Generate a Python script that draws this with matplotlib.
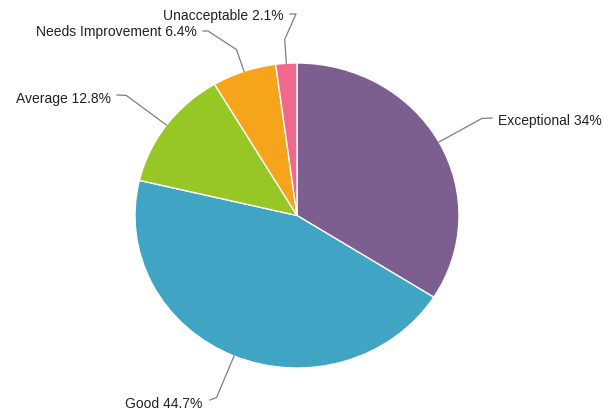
import numpy as np
import matplotlib.pyplot as plt

categories = ['Exceptional', 'Good', 'Average', 'Needs Improvement', 'Unacceptable']
shares = [34, 44.7, 12.8, 6.4, 2.1]
colors = ['#7c5e91', '#40a4c4', '#96c724', '#f5a41b', '#f0688c']

# label placement in pixels: radial stub length, extra connector points, text x/y, alignment
label_layout = [
    (49, [(492, 119)], 498, 121, 'left'),
    (45, [(210, 401)], 202, 404, 'right'),
    (50, [(117, 96)], 111, 99, 'right'),
    (23, [(208, 32), (203, 32)], 197, 32, 'right'),
    (24, [(296, 15), (290, 15)], 284, 16, 'right'),
]

plt.rcParams['font.family'] = ['Liberation Sans', 'DejaVu Sans']

W, H = 603, 414
fig = plt.figure(figsize=(W / 100, H / 100), dpi=100)

ax = fig.add_axes([135 / W, (H - 369) / H, 324 / W, 305 / H])
wedges, _ = ax.pie(shares, colors=colors, startangle=90, counterclock=False,
                   radius=1, wedgeprops=dict(edgecolor='white', linewidth=1))
ax.set_aspect('auto')
ax.set_xlim(-1, 1)
ax.set_ylim(-1, 1)

over = fig.add_axes([0, 0, 1, 1])
over.set_xlim(0, W)
over.set_ylim(H, 0)
over.axis('off')

fig.canvas.draw()
for w, name, val, lay in zip(wedges, categories, shares, label_layout):
    stub, pts, tx, ty, ha = lay
    mid = np.deg2rad((w.theta1 + w.theta2) / 2)
    disp = ax.transData.transform((np.cos(mid), np.sin(mid)))
    ex, ey = over.transData.inverted().transform(disp)
    rx = ex + stub * np.cos(mid)
    ry = ey - stub * np.sin(mid)
    xs = [ex, rx] + [p[0] for p in pts]
    ys = [ey, ry] + [p[1] for p in pts]
    over.plot(xs, ys, color='#7f7f7f', lw=0.9)
    over.text(tx, ty, f'{name} {val:g}%', ha=ha, va='center',
              fontsize=10, color='#222222')

fig.savefig('out.png', dpi=100, facecolor='white')
